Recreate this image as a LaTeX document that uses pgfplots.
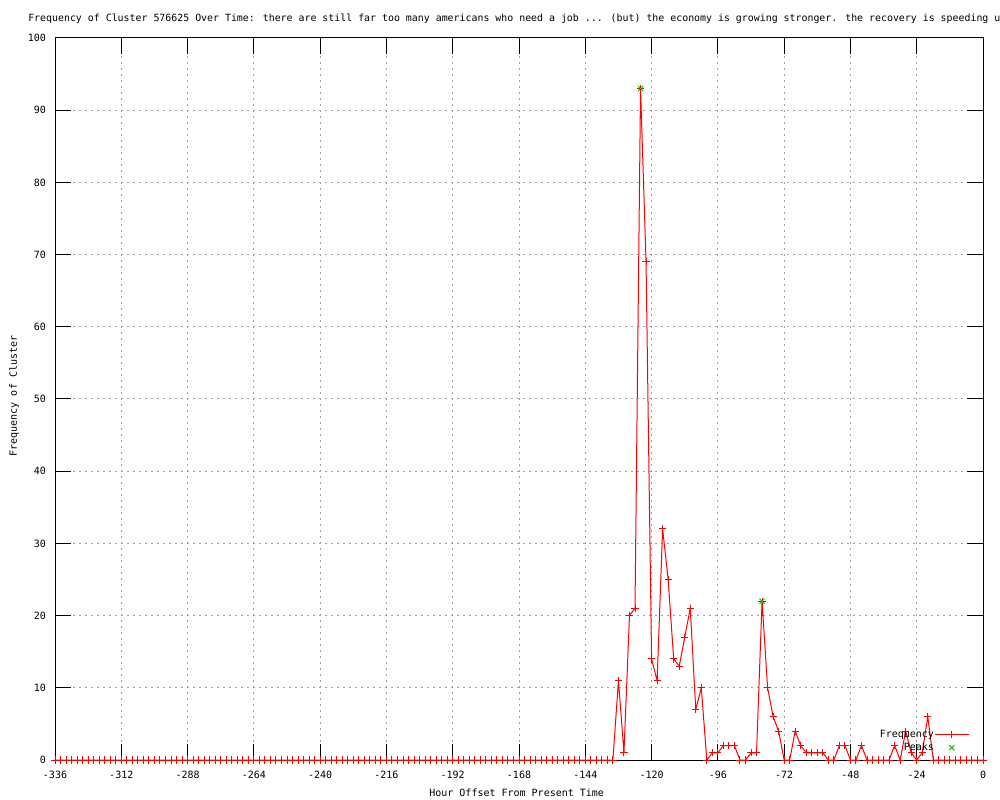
\documentclass[border=0pt]{standalone}
\usepackage{fontspec}
\setmainfont{DejaVu Sans Mono}
\usepackage{pgfplots}
\pgfplotsset{compat=1.18}
\definecolor{gpred}{RGB}{255,0,0}
\definecolor{gpgreen}{RGB}{0,192,0}
\definecolor{gpgrid}{RGB}{160,160,160}
\newcommand{\gpfont}{\fontsize{7.5pt}{9pt}\selectfont}
\begin{document}
\begin{tikzpicture}[font=\gpfont]
\useasboundingbox (0,0) rectangle (750pt,600pt);
\fill[white] (0,0) rectangle (750pt,600pt);
\begin{axis}[
  at={(41.25pt,30pt)}, anchor=south west,
  scale only axis, width=696pt, height=541.5pt,
  xmin=-336, xmax=0, ymin=0, ymax=100,
  xtick={-336,-312,...,0},
  xticklabels={{-336},{-312},{-288},{-264},{-240},{-216},{-192},{-168},{-144},{-120},{-96},{-72},{-48},{-24},{0}},
  ytick={0,10,...,100},
  yticklabels={0,10,20,30,40,50,60,70,80,90,100},
  ticklabel style={font=\gpfont},
  xticklabel style={yshift=-4.5pt},
  yticklabel style={xshift=-3.3pt},
  tick align=inside, major tick length=12pt,
  tick style={black, line width=0.75pt},
  axis line style={black, line width=0.75pt},
  grid=major,
  major grid style={gpgrid, line width=0.75pt, dash pattern=on 1.6pt off 2.9pt},
  clip=false,
  legend plot pos=right,
  legend cell align=right,
  legend image code/.code={\draw[mark repeat=2,mark phase=2,#1] plot coordinates {(0pt,0pt)(12.5pt,0pt)(25pt,0pt)};},
  legend style={draw=none, fill=none, font=\gpfont,
    at={(rel axis cs:0.9852,0.0263)}, anchor=east, inner sep=0pt,
    nodes={inner sep=0.5pt, text height=6pt, text depth=1.5pt},
    row sep=1.5pt,
    /tikz/every even column/.append style={column sep=4pt}},
]
\addplot[gpred, line width=0.75pt, mark=+, mark size=2.7pt, mark options={solid, line width=0.75pt}] coordinates {
(-336,0)(-334,0)(-332,0)(-330,0)(-328,0)(-326,0)(-324,0)(-322,0)(-320,0)(-318,0)
(-316,0)(-314,0)(-312,0)(-310,0)(-308,0)(-306,0)(-304,0)(-302,0)(-300,0)(-298,0)
(-296,0)(-294,0)(-292,0)(-290,0)(-288,0)(-286,0)(-284,0)(-282,0)(-280,0)(-278,0)
(-276,0)(-274,0)(-272,0)(-270,0)(-268,0)(-266,0)(-264,0)(-262,0)(-260,0)(-258,0)
(-256,0)(-254,0)(-252,0)(-250,0)(-248,0)(-246,0)(-244,0)(-242,0)(-240,0)(-238,0)
(-236,0)(-234,0)(-232,0)(-230,0)(-228,0)(-226,0)(-224,0)(-222,0)(-220,0)(-218,0)
(-216,0)(-214,0)(-212,0)(-210,0)(-208,0)(-206,0)(-204,0)(-202,0)(-200,0)(-198,0)
(-196,0)(-194,0)(-192,0)(-190,0)(-188,0)(-186,0)(-184,0)(-182,0)(-180,0)(-178,0)
(-176,0)(-174,0)(-172,0)(-170,0)(-168,0)(-166,0)(-164,0)(-162,0)(-160,0)(-158,0)
(-156,0)(-154,0)(-152,0)(-150,0)(-148,0)(-146,0)(-144,0)(-142,0)(-140,0)(-138,0)
(-136,0)(-134,0)(-132,11)(-130,1)(-128,20)(-126,21)(-124,93)(-122,69)(-120,14)(-118,11)
(-116,32)(-114,25)(-112,14)(-110,13)(-108,17)(-106,21)(-104,7)(-102,10)(-100,0)(-98,1)
(-96,1)(-94,2)(-92,2)(-90,2)(-88,0)(-86,0)(-84,1)(-82,1)(-80,22)(-78,10)
(-76,6)(-74,4)(-72,0)(-70,0)(-68,4)(-66,2)(-64,1)(-62,1)(-60,1)(-58,1)
(-56,0)(-54,0)(-52,2)(-50,2)(-48,0)(-46,0)(-44,2)(-42,0)(-40,0)(-38,0)
(-36,0)(-34,0)(-32,2)(-30,0)(-28,4)(-26,1)(-24,0)(-22,1)(-20,6)(-18,0)
(-16,0)(-14,0)(-12,0)(-10,0)(-8,0)(-6,0)(-4,0)(-2,0)(0,0)
};
\addlegendentry{Frequency}
\addplot[gpgreen, only marks, mark=x, mark size=2.7pt, mark options={line width=0.75pt}] coordinates {
(-124,93)(-80,22)
};
\addlegendentry{Peaks}
\draw[black, line width=0.75pt] (rel axis cs:0,0) -- (rel axis cs:1,0);
\end{axis}
\node[anchor=base west, inner sep=0pt, font=\fontsize{7.43pt}{9pt}\selectfont] at (21pt,583.5pt) {Frequency of Cluster 576625 Over Time: there are still far too many americans who need a job ... (but) the economy is growing stronger. the recovery is speeding up};
\node[rotate=90, inner sep=0pt] at (10.5pt,303pt) {Frequency of Cluster};
\node[anchor=base, inner sep=0pt] at (387.5pt,2.25pt) {Hour Offset From Present Time};
\end{tikzpicture}
\end{document}
